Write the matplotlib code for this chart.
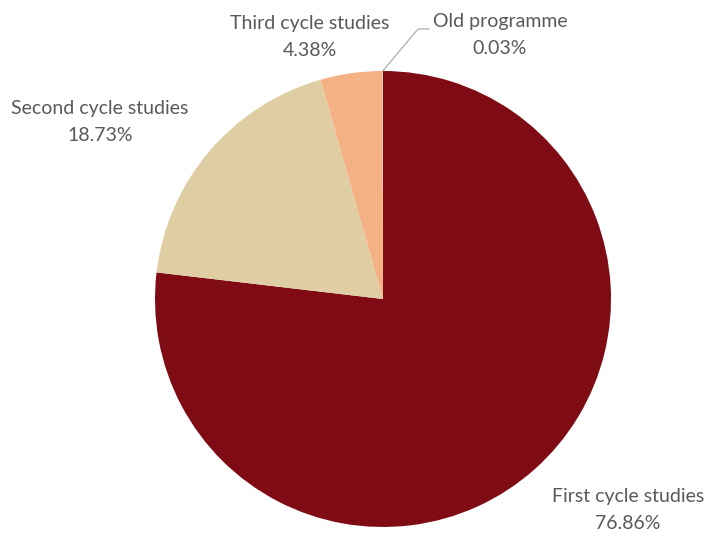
import matplotlib.pyplot as plt
import numpy as np

plt.rcParams['font.family'] = ['Lato', 'DejaVu Sans']

categories = ["First cycle studies", "Second cycle studies", "Third cycle studies", "Old programme"]
shares = [76.86, 18.73, 4.38, 0.03]
colors = ["#7F0C14", "#DFCEA4", "#F4B184", "#F7D48C"]

# label centres in pixel coords (x, y from top)
label_pos = [(628, 510), (100, 122), (310, 37), (500, 35)]

W, H = 708, 537
fig = plt.figure(figsize=(W / 100, H / 100), dpi=100)
ax = fig.add_axes([0, 0, 1, 1])

cx, cy, r = 383, H - 299, 228
wedges, _ = ax.pie(shares, colors=colors, startangle=90, counterclock=False,
                   center=(cx, cy), radius=r, wedgeprops=dict(linewidth=0))

for name, val, (lx, ly) in zip(categories, shares, label_pos):
    ax.text(lx, H - ly, f"{name}\n{val:.2f}%", ha="center", va="center",
            fontsize=14, color="#595959", linespacing=1.65)

# leader line for the tiny slice
w = wedges[-1]
mid = np.deg2rad((w.theta1 + w.theta2) / 2)
px, py = cx + r * np.cos(mid), cy + r * np.sin(mid)
ax.plot([px, 418, 429], [py, H - 29, H - 29], color="#A6A6A6", lw=0.8)

ax.set_xlim(0, W)
ax.set_ylim(0, H)
ax.set_aspect("equal")
ax.axis("off")
fig.savefig("out.png", dpi=100)
